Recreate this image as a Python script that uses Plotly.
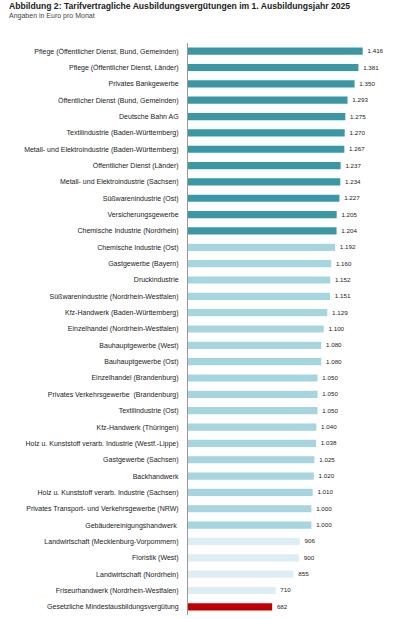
import plotly.graph_objects as go

# Branchen von oben nach unten, wie im Original
branchen = [
    "Pflege (Öffentlicher Dienst, Bund, Gemeinden)",
    "Pflege (Öffentlicher Dienst, Länder)",
    "Privates Bankgewerbe",
    "Öffentlicher Dienst (Bund, Gemeinden)",
    "Deutsche Bahn AG",
    "Textilindustrie (Baden-Württemberg)",
    "Metall- und Elektroindustrie (Baden-Württemberg)",
    "Öffentlicher Dienst (Länder)",
    "Metall- und Elektroindustrie (Sachsen)",
    "Süßwarenindustrie (Ost)",
    "Versicherungsgewerbe",
    "Chemische Industrie (Nordrhein)",
    "Chemische Industrie (Ost)",
    "Gastgewerbe (Bayern)",
    "Druckindustrie",
    "Süßwarenindustrie (Nordrhein-Westfalen)",
    "Kfz-Handwerk (Baden-Württemberg)",
    "Einzelhandel (Nordrhein-Westfalen)",
    "Bauhauptgewerbe (West)",
    "Bauhauptgewerbe (Ost)",
    "Einzelhandel (Brandenburg)",
    "Privates Verkehrsgewerbe  (Brandenburg)",
    "Textilindustrie (Ost)",
    "Kfz-Handwerk (Thüringen)",
    "Holz u. Kunststoff verarb. Industrie (Westf.-Lippe)",
    "Gastgewerbe (Sachsen)",
    "Backhandwerk",
    "Holz u. Kunststoff verarb. Industrie (Sachsen)",
    "Privates Transport- und Verkehrsgewerbe (NRW)",
    "Gebäudereinigungshandwerk ",
    "Landwirtschaft (Mecklenburg-Vorpommern)",
    "Floristik (West)",
    "Landwirtschaft (Nordrhein)",
    "Friseurhandwerk (Nordrhein-Westfalen)",
    "Gesetzliche Mindestausbildungsvergütung",
]

euro = [1416, 1381, 1350, 1293, 1275, 1270, 1267, 1237, 1234, 1227, 1205, 1204,
        1192, 1160, 1152, 1151, 1129, 1100, 1080, 1080, 1050, 1050, 1050, 1040,
        1038, 1025, 1020, 1010, 1000, 1000,
        906, 900, 855, 710,
        682]

# Farbgruppen
gruppe = ["hoch"] * 12 + ["mittel"] * 18 + ["niedrig"] * 4 + ["minimum"]
farben = {"hoch": "#3a98a4", "mittel": "#a6d5df", "niedrig": "#ddedf4", "minimum": "#c00000"}

schrift = "Liberation Sans, Arial"

fig = go.Figure(go.Bar(
    y=branchen,
    x=euro,
    orientation="h",
    marker=dict(color=[farben[g] for g in gruppe], line=dict(width=0)),
    texttemplate=" %{x:,}",
    textposition="outside",
    cliponaxis=False,
    textfont=dict(family=schrift, size=7.8, color="#222222"),
    hoverinfo="skip",
))

fig.update_layout(
    width=400,
    height=619,
    margin=dict(l=188, r=10, t=43, b=4),
    paper_bgcolor="white",
    plot_bgcolor="white",
    separators=",.",
    showlegend=False,
    bargap=0.56,
    font=dict(family=schrift, size=7, color="#222222"),
    xaxis=dict(range=[0, 1637], visible=False, fixedrange=True),
    yaxis=dict(
        autorange="reversed",
        automargin=False,
        showline=True,
        linecolor="#999999",
        linewidth=1,
        ticks="",
        showgrid=False,
        ticklabelstandoff=7,
        tickfont=dict(family=schrift, size=7, color="#222222"),
        fixedrange=True,
    ),
    annotations=[
        dict(text="<b>Abbildung 2: Tarifvertragliche Ausbildungsvergütungen im 1. Ausbildungsjahr 2025</b>",
             xref="paper", yref="paper", x=-181 / 202, y=1, yshift=44,
             xanchor="left", yanchor="top", showarrow=False,
             font=dict(family=schrift, size=8.6, color="#222222")),
        dict(text="Angaben in Euro pro Monat",
             xref="paper", yref="paper", x=-181 / 202, y=1, yshift=33,
             xanchor="left", yanchor="top", showarrow=False,
             font=dict(family=schrift, size=7, color="#444444")),
    ],
)

# Browser-Standardrand der Seite entfernen
fig.write_html("out.html", config={"displayModeBar": False},
               post_script="document.body.style.margin='0';")
